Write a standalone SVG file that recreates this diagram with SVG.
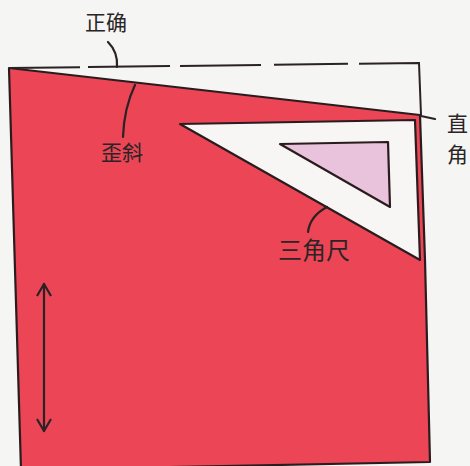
<svg xmlns="http://www.w3.org/2000/svg" width="470" height="466" viewBox="0 0 470 466">
<defs>
<style>
.lbl{font-family:"Noto Sans CJK SC","Noto Sans",sans-serif;font-size:21px;fill:#2a2426}
.ln{fill:none;stroke:#2a2224;stroke-width:2.2;stroke-linecap:round;stroke-linejoin:round}
.edge{stroke:#2a1c1e;stroke-width:2.2;stroke-linejoin:round}
</style>
<marker id="ah" viewBox="0 0 16 16" refX="14" refY="8" markerWidth="16" markerHeight="16" markerUnits="userSpaceOnUse" orient="auto-start-reverse">
<path d="M2 1 L14 8 L2 15" fill="none" stroke="#2a2224" stroke-width="2.2" stroke-linejoin="round"/>
</marker>
</defs>
<rect width="470" height="466" fill="#f5f5f3"/>
<g id="paper">
<path class="edge" d="M9 68 L420 115 L425 260 L430 462 L21 470 Z" fill="#ec4656"/>
</g>
<g id="correct-outline">
<path d="M9 68 L419 63 L421 115" fill="none" stroke="#2a2224" stroke-width="2" stroke-dasharray="71 8 82 10 81 13 74 11 200"/>
</g>
<g id="set-square">
<path class="edge" d="M180 124 L415 120 L420 260 Z" fill="#f7f6f4"/>
<path class="edge" d="M280 144 L388 142 L390 207 Z" fill="#e9c2dc"/>
</g>
<g id="arrow">
<line class="ln" x1="44" y1="284" x2="44" y2="431" marker-start="url(#ah)" marker-end="url(#ah)"/>
</g>
<g id="connectors">
<path class="ln" d="M108 42 Q118 52 117 67"/>
<path class="ln" d="M135 85 Q124 108 123 137"/>
<path class="ln" d="M327 207 Q310 216 308 232"/>
<path class="ln" d="M421 116 L435 119"/>
</g>
<g id="labels">
<text class="lbl" x="106" y="30" text-anchor="middle">正确</text>
<text class="lbl" x="122" y="160" text-anchor="middle">歪斜</text>
<text class="lbl" x="314" y="259" text-anchor="middle" style="font-size:24px">三角尺</text>
<text class="lbl" x="447" y="131">直</text>
<text class="lbl" x="447" y="162">角</text>
</g>
</svg>
